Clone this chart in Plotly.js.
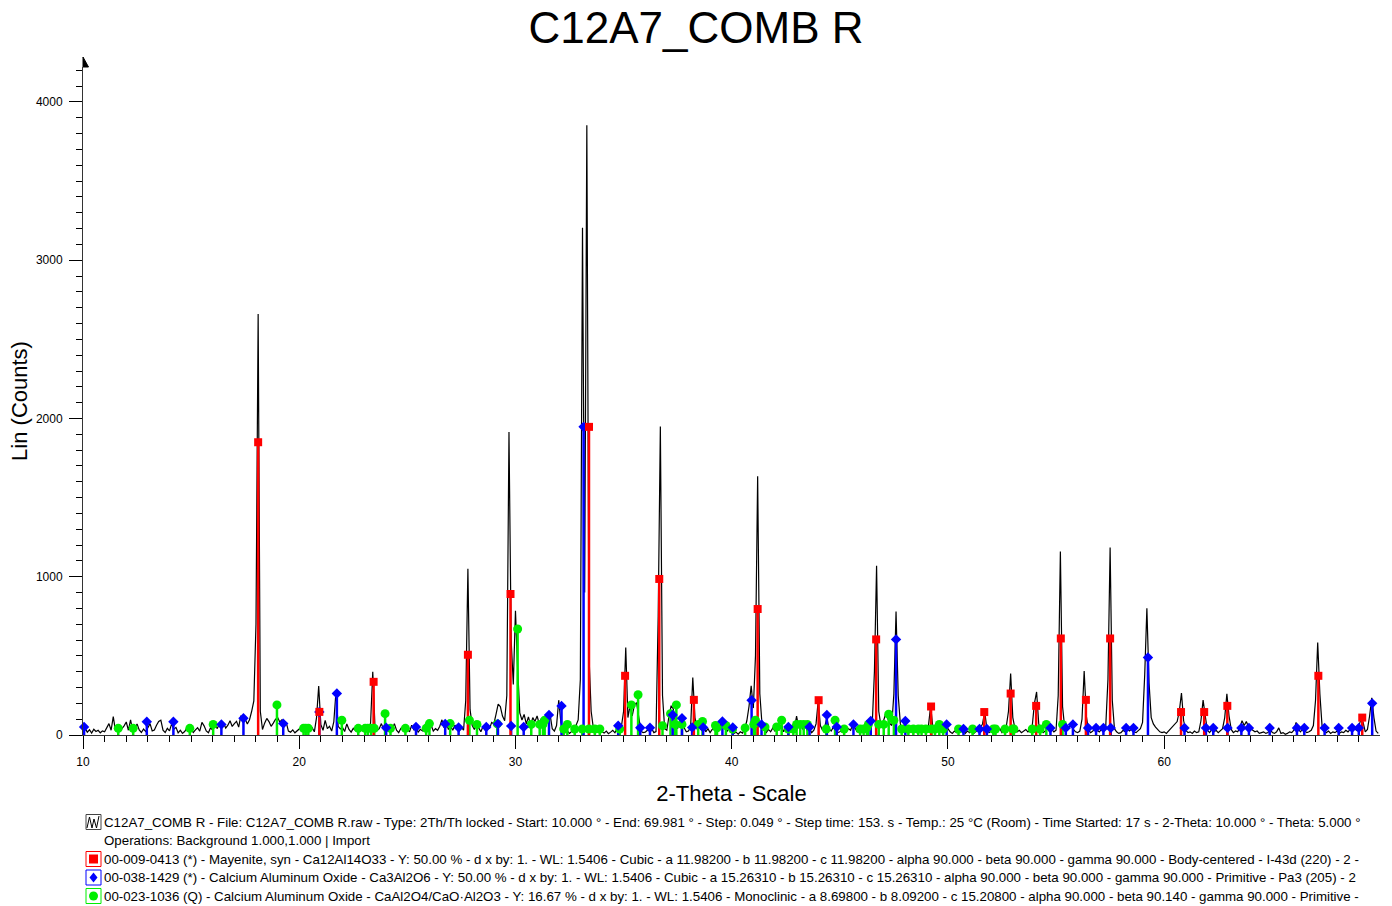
<!DOCTYPE html>
<html>
<head>
<meta charset="utf-8">
<script src="https://cdn.plot.ly/plotly-3.0.1.min.js"></script>
<style>
  html, body { margin: 0; padding: 0; background: #fff; }
  #chart { width: 1392px; height: 906px; }
</style>
</head>
<body>
<div id="chart"></div>
<script>
// Scan settings of the measured pattern (2-Theta, degrees)
const scanStart = 10.0;
const scanStep = 0.1;
const scanEnd = 69.981;

// Measured intensity (Lin counts): one row per degree, ten samples per row
const countsByDegree = [
  [28, 42, 18, 33, 12, 36, 22, 30, 14, 26],          // 10
  [20, 48, 72, 30, 116, 28, 42, 22, 38, 58],         // 11
  [82, 30, 95, 26, 44, 70, 32, 16, 38, 22],          // 12
  [46, 72, 26, 32, 62, 86, 94, 30, 16, 42],          // 13
  [26, 70, 36, 48, 14, 30, 10, 22, 42, 26],          // 14
  [36, 16, 32, 46, 24, 80, 58, 26, 14, 46],          // 15
  [30, 86, 40, 66, 48, 74, 44, 62, 90, 54],          // 16
  [72, 86, 50, 122, 82, 100, 70, 96, 150, 215],      // 17
  [700, 2660, 150, 35, 75, 105, 85, 55, 75, 98],     // 18
  [110, 82, 96, 62, 78, 25, 18, 32, 14, 26],         // 19
  [40, 55, 62, 48, 58, 30, 45, 20, 110, 310],        // 20
  [65, 30, 92, 40, 55, 25, 85, 275, 55, 38],         // 21
  [48, 22, 70, 35, 18, 42, 28, 50, 22, 36],          // 22
  [30, 45, 20, 78, 400, 62, 28, 40, 72, 35],         // 23
  [28, 46, 20, 38, 72, 30, 15, 42, 55, 24],          // 24
  [40, 20, 62, 34, 48, 18, 36, 26, 50, 30],          // 25
  [45, 62, 25, 40, 30, 55, 96, 45, 80, 35],          // 26
  [55, 30, 62, 40, 25, 48, 30, 220, 1050, 160],      // 27
  [60, 35, 70, 45, 20, 55, 30, 60, 40, 80],          // 28
  [70, 130, 195, 180, 120, 90, 250, 1915, 600, 320], // 29
  [785, 420, 140, 95, 130, 70, 115, 60, 110, 85],    // 30
  [120, 70, 105, 60, 125, 90, 130, 40, 25, 60],      // 31
  [220, 80, 30, 15, 25, 10, 20, 35, 60, 95],         // 32
  [350, 3205, 900, 3853, 500, 150, 45, 20, 30, 15],  // 33
  [20, 12, 25, 8, 18, 30, 14, 40, 22, 55],           // 34
  [150, 553, 110, 185, 120, 190, 205, 110, 25, 15],  // 35
  [18, 30, 55, 40, 15, 22, 750, 1950, 250, 40],      // 36
  [30, 120, 185, 165, 80, 40, 95, 110, 45, 20],      // 37
  [25, 50, 363, 110, 35, 55, 30, 65, 20, 40],        // 38
  [15, 35, 60, 25, 45, 70, 88, 40, 25, 50],          // 39
  [30, 10, 18, 5, 20, 12, 40, 90, 180, 311],         // 40
  [170, 500, 1635, 260, 70, 30, 15, 35, 20, 45],     // 41
  [25, 50, 30, 65, 20, 45, 30, 55, 25, 40],          // 42
  [120, 45, 60, 35, 55, 25, 40, 15, 30, 70],         // 43
  [215, 60, 30, 50, 110, 40, 25, 50, 30, 15],        // 44
  [20, 35, 15, 25, 40, 30, 70, 45, 20, 35],          // 45
  [25, 40, 55, 60, 85, 70, 400, 1070, 150, 60],      // 46
  [80, 125, 110, 75, 60, 260, 781, 250, 70, 25],     // 47
  [80, 30, 20, 40, 15, 25, 10, 30, 20, 35],          // 48
  [25, 60, 184, 50, 20, 35, 15, 30, 55, 75],         // 49
  [40, 20, 10, 25, 15, 35, 20, 40, 10, 25],          // 50
  [15, 30, 10, 20, 35, 45, 70, 148, 40, 15],         // 51
  [25, 10, 30, 20, 40, 15, 35, 55, 150, 389],        // 52
  [110, 40, 20, 30, 15, 25, 35, 20, 30, 60],         // 53
  [200, 272, 70, 30, 15, 25, 40, 20, 35, 20],        // 54
  [30, 250, 1160, 180, 45, 30, 50, 60, 35, 20],      // 55
  [15, 25, 100, 405, 120, 30, 15, 25, 40, 30],       // 56
  [20, 35, 25, 60, 350, 1185, 220, 40, 20, 10],      // 57
  [15, 30, 20, 35, 25, 40, 20, 15, 30, 40],          // 58
  [80, 380, 800, 330, 110, 70, 50, 35, 20, 15],      // 59
  [20, 10, 25, 40, 55, 70, 85, 150, 265, 90],        // 60
  [30, 15, 20, 10, 25, 15, 20, 90, 220, 120],        // 61
  [30, 15, 35, 20, 30, 15, 25, 40, 110, 260],        // 62
  [120, 35, 15, 25, 20, 45, 90, 60, 85, 50],         // 63
  [40, 30, 20, 25, 10, 15, 20, 10, 15, 38],          // 64
  [15, 10, 20, 45, 10, 15, 5, 10, 20, 15],           // 65
  [30, 80, 40, 20, 35, 25, 15, 20, 30, 60],          // 66
  [220, 585, 260, 60, 30, 15, 25, 10, 20, 15],       // 67
  [25, 10, 20, 15, 30, 20, 35, 25, 40, 30],          // 68
  [55, 100, 80, 20, 35, 120, 235, 110, 25, 10]       // 69
];

// Reference pattern 00-009-0413 Mayenite (2-Theta, stick height)
const mayenitePos = [18.10, 20.93, 23.44, 27.80, 29.77, 33.40, 35.07, 36.65, 38.25, 41.20, 44.02, 46.68,
  49.22, 51.68, 52.90, 54.08, 55.22, 56.38, 57.50, 60.78, 61.85, 62.92, 67.13, 69.16];
const mayeniteInt = [1850, 146, 336, 507, 891, 1947, 374, 986, 222, 796, 220, 604,
  180, 145, 262, 184, 610, 222, 610, 145, 145, 184, 374, 110];

// Reference pattern 00-038-1429 Ca3Al2O6
const c3aPos = [10.05, 12.95, 14.18, 16.40, 17.42, 19.26, 20.93, 21.74, 24.02, 25.40,
  26.75, 27.37, 28.65, 29.19, 29.80, 30.38, 31.55, 32.13, 33.15, 34.75,
  35.77, 36.22, 37.27, 37.70, 38.17, 38.68, 39.57, 40.05, 40.92, 41.38,
  42.62, 43.60, 44.40, 44.86, 45.63, 46.43, 47.60, 48.03, 49.94, 50.72,
  51.46, 51.80, 54.74, 55.45, 55.78, 56.48, 56.85, 57.19, 57.53, 58.24,
  58.58, 59.25, 60.94, 61.93, 62.27, 62.93, 63.57, 63.92, 64.88, 66.14,
  66.48, 67.42, 68.07, 68.69, 69.00, 69.62];
const c3aInt = [51, 84, 84, 67, 106, 72, 146, 262, 46, 51,
  70, 48, 51, 70, 57, 51, 127, 184, 1947, 59,
  46, 46, 127, 106, 48, 48, 85, 48, 220, 67,
  51, 51, 127, 51, 67, 88, 604, 88, 67, 38,
  38, 38, 45, 45, 67, 45, 45, 45, 45, 45,
  45, 490, 45, 45, 45, 45, 45, 45, 45, 45,
  45, 45, 45, 45, 45, 200];

// Reference pattern 00-023-1036 CaAl2O4
const caPos = [11.63, 12.32, 14.94, 16.02, 18.97, 20.20, 20.30, 20.42, 21.97, 22.73,
  23.05, 23.17, 23.32, 23.47, 23.97, 24.22, 24.91, 25.87, 26.02, 26.98,
  27.87, 28.22, 29.16, 30.10, 30.73, 31.12, 31.27, 31.35, 32.23, 32.40,
  32.74, 33.09, 33.40, 33.67, 33.90, 34.82, 35.36, 35.67, 36.80, 37.17,
  37.37, 37.44, 37.70, 38.45, 38.65, 39.25, 39.32, 39.73, 40.04, 40.62,
  41.02, 41.10, 41.54, 42.08, 42.31, 42.62, 42.85, 43.00, 43.17, 43.33,
  43.50, 44.37, 44.78, 45.20, 45.94, 46.10, 46.25, 46.32, 46.80, 47.03,
  47.26, 47.50, 47.86, 48.17, 48.40, 48.63, 48.78, 48.98, 49.24, 49.40,
  49.60, 49.78, 50.49, 51.14, 52.10, 52.20, 52.64, 53.00, 53.05, 53.90,
  54.26, 54.55, 55.30];
const caInt = [42, 42, 42, 67, 190, 42, 42, 42, 93, 42,
  42, 42, 42, 42, 135, 42, 42, 42, 72, 72,
  93, 67, 70, 670, 67, 67, 67, 93, 38, 67,
  38, 38, 38, 38, 38, 38, 190, 254, 59, 135,
  67, 190, 67, 67, 85, 60, 45, 60, 38, 45,
  67, 93, 51, 51, 93, 38, 38, 67, 67, 67,
  67, 38, 93, 38, 38, 38, 45, 67, 67, 67,
  131, 93, 38, 38, 38, 38, 38, 38, 38, 38,
  67, 38, 38, 38, 38, 38, 38, 38, 38, 38,
  38, 67, 67];

// Legend lines under the plot
const legendLines = [
  'C12A7_COMB R - File: C12A7_COMB R.raw - Type: 2Th/Th locked - Start: 10.000 ° - End: 69.981 ° - Step: 0.049 ° - Step time: 153. s - Temp.: 25 °C (Room) - Time Started: 17 s - 2-Theta: 10.000 ° - Theta: 5.000 °',
  'Operations: Background 1.000,1.000 | Import',
  '00-009-0413 (*) - Mayenite, syn - Ca12Al14O33 - Y: 50.00 % - d x by: 1. - WL: 1.5406 - Cubic - a 11.98200 - b 11.98200 - c 11.98200 - alpha 90.000 - beta 90.000 - gamma 90.000 - Body-centered - I-43d (220) - 2 -',
  '00-038-1429 (*) - Calcium Aluminum Oxide - Ca3Al2O6 - Y: 50.00 % - d x by: 1. - WL: 1.5406 - Cubic - a 15.26310 - b 15.26310 - c 15.26310 - alpha 90.000 - beta 90.000 - gamma 90.000 - Primitive - Pa3 (205) - 2',
  '00-023-1036 (Q) - Calcium Aluminum Oxide - CaAl2O4/CaO·Al2O3 - Y: 16.67 % - d x by: 1. - WL: 1.5406 - Monoclinic - a 8.69800 - b 8.09200 - c 15.20800 - alpha 90.000 - beta 90.140 - gamma 90.000 - Primitive -'
];

// ---------- build traces ----------
const counts = countsByDegree.flat();
const twoTheta = counts.map((_, i) => +(scanStart + i * scanStep).toFixed(2));

const RED = '#ff0000', BLUE = '#0000ff', GREEN = '#00ee00';

function sticks(pos, val, color) {
  const x = [], y = [];
  pos.forEach((p, i) => { x.push(p, p, null); y.push(0, val[i], null); });
  return { type: 'scatter', mode: 'lines', x, y, line: { color, width: 2.5 }, hoverinfo: 'skip' };
}
function tops(pos, val, color, symbol, size) {
  return { type: 'scatter', mode: 'markers', x: pos, y: val, cliponaxis: false,
           marker: { color, symbol, size, line: { width: 0 } }, hoverinfo: 'skip' };
}

const data = [
  { type: 'scatter', mode: 'lines', x: twoTheta, y: counts, line: { color: '#000', width: 1.2 }, hoverinfo: 'skip' },
  sticks(caPos, caInt, GREEN),
  sticks(c3aPos, c3aInt, BLUE),
  sticks(mayenitePos, mayeniteInt, RED),
  tops(caPos, caInt, GREEN, 'circle', 9),
  tops(c3aPos, c3aInt, BLUE, 'diamond', 8),
  tops(mayenitePos, mayeniteInt, RED, 'square', 8)
];

// ---------- page geometry ----------
const W = 1392, H = 906;
const M = { l: 83, r: 12, t: 67, b: 171 };
const PW = W - M.l - M.r, PH = H - M.t - M.b;
const px = v => (v - M.l) / PW;           // pixel column -> paper x
const py = v => (H - M.b - v) / PH;       // pixel row -> paper y
function path(pts) {
  return 'M ' + pts.map(p => px(p[0]).toFixed(5) + ',' + py(p[1]).toFixed(5)).join(' L ') + ' Z';
}

const shapes = [];
// arrow head on top of the count axis
shapes.push({ type: 'path', xref: 'paper', yref: 'paper', path: path([[83, 57], [88.5, 67], [83, 67]]),
              fillcolor: '#000', line: { color: '#000', width: 1 } });

// legend boxes
const boxRows = [822, 859, 877.5, 896];
const boxColors = ['#444', RED, BLUE, GREEN];
boxRows.forEach((cy, i) => {
  shapes.push({ type: 'rect', xref: 'paper', yref: 'paper',
    x0: px(86), x1: px(101), y0: py(cy - 7.5), y1: py(cy + 7.5),
    line: { color: boxColors[i], width: 1 }, fillcolor: '#fff' });
});
// pattern glyph
shapes.push({ type: 'path', xref: 'paper', yref: 'paper',
  path: 'M ' + [[87, 828], [89.5, 817], [92, 828], [94, 819], [96.5, 828], [99, 816]]
    .map(p => px(p[0]).toFixed(5) + ',' + py(p[1]).toFixed(5)).join(' L '),
  line: { color: '#000', width: 1 } });
// phase symbols
shapes.push({ type: 'rect', xref: 'paper', yref: 'paper', x0: px(89), x1: px(98), y0: py(854.5), y1: py(863.5),
  fillcolor: RED, line: { color: RED, width: 0 } });
shapes.push({ type: 'path', xref: 'paper', yref: 'paper',
  path: path([[93.5, 872.5], [97.5, 877.5], [93.5, 882.5], [89.5, 877.5]]),
  fillcolor: BLUE, line: { color: BLUE, width: 0 } });
shapes.push({ type: 'circle', xref: 'paper', yref: 'paper', x0: px(89), x1: px(98), y0: py(891.5), y1: py(900.5),
  fillcolor: GREEN, line: { color: GREEN, width: 0 } });

const legendRows = [822, 840.5, 859, 877.5, 896];
const annotations = legendLines.map((t, i) => ({
  text: t, xref: 'paper', yref: 'paper', x: px(102), y: py(legendRows[i]),
  xanchor: 'left', yanchor: 'middle', showarrow: false, font: { size: 13.3, color: '#000' }
}));

const axisCommon = {
  ticks: 'outside', ticklen: 13, tickwidth: 1, tickcolor: '#000',
  showline: true, linecolor: '#333', linewidth: 1,
  showgrid: false, zeroline: false, tickfont: { size: 12, color: '#000' }
};

const layout = {
  width: W, height: H,
  margin: { l: M.l, r: M.r, t: M.t, b: M.b, pad: 0 },
  paper_bgcolor: '#fff', plot_bgcolor: '#fff',
  font: { family: '"Liberation Sans", Arial, sans-serif', color: '#000' },
  showlegend: false, hovermode: false,
  title: { text: 'C12A7_COMB R', font: { size: 44, color: '#000' },
           x: 0.5, xref: 'container', xanchor: 'center', y: 1 - 28 / H, yref: 'container', yanchor: 'middle' },
  xaxis: Object.assign({}, axisCommon, {
    range: [scanStart, scanEnd], tick0: 10, dtick: 10, ticklabelstandoff: 3,
    minor: { tick0: 10, dtick: 1, ticks: 'outside', ticklen: 6, tickwidth: 1, tickcolor: '#000', showgrid: false },
    title: { text: '2-Theta - Scale', font: { size: 22, color: '#000' }, standoff: 17 }
  }),
  yaxis: Object.assign({}, axisCommon, {
    range: [0, 4221], tick0: 0, dtick: 1000, tickformat: 'd', ticklabelstandoff: 4,
    minor: { tick0: 0, dtick: 100, ticks: 'outside', ticklen: 6, tickwidth: 1, tickcolor: '#000', showgrid: false },
    title: { text: 'Lin (Counts)', font: { size: 22, color: '#000' }, standoff: 2 }
  }),
  shapes, annotations
};

Plotly.newPlot('chart', data, layout, { staticPlot: true, displayModeBar: false });
</script>
</body>
</html>
